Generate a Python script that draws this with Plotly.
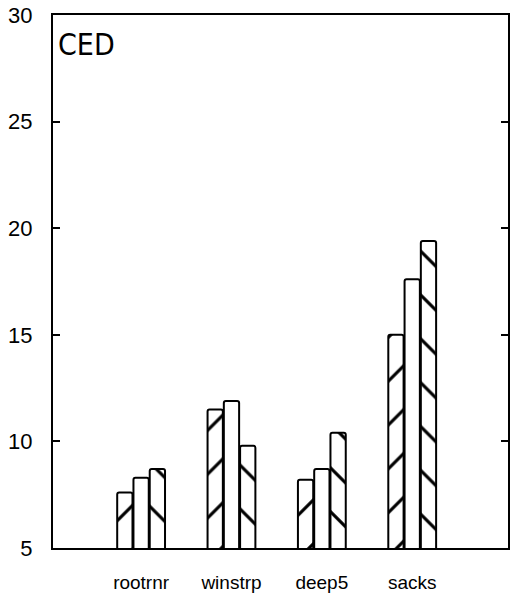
import plotly.graph_objects as go

# CED scores per benchmark, three runs each
categories = ["rootrnr", "winstrp", "deep5", "sacks"]
run_a = [7.6, 11.5, 8.2, 15.0]
run_b = [8.3, 11.9, 8.7, 17.6]
run_c = [8.7, 9.8, 10.4, 19.4]
y_ticks = [5, 10, 15, 20, 25, 30]

font_family = "Liberation Sans, Arial, sans-serif"
title_family = "DejaVu Sans Condensed, Liberation Sans Narrow, Liberation Sans, sans-serif"

fig = go.Figure()

series = [
    (run_a, "/"),
    (run_b, ""),
    (run_c, "\\"),
]
for values, shape in series:
    fig.add_trace(go.Bar(
        x=categories,
        y=values,
        base=0,
        marker=dict(
            color="white",
            line=dict(color="black", width=2),
            pattern=dict(shape=shape, size=31, solidity=0.1,
                         fgcolor="black", bgcolor="white", fillmode="replace"),
            cornerradius=2,
        ),
        showlegend=False,
    ))

fig.update_layout(
    width=521,
    height=602,
    margin=dict(l=53, r=13, t=15, b=54, autoexpand=False),
    paper_bgcolor="white",
    plot_bgcolor="white",
    barmode="group",
    bargap=0.46,
    bargroupgap=0.06,
    font=dict(family=font_family, color="black"),
    annotations=[dict(
        text="CED", xref="paper", yref="paper", x=0.006, y=0.982,
        xanchor="left", yanchor="top", showarrow=False,
        font=dict(size=30, family=title_family, color="black"),
    )],
)

fig.update_xaxes(
    range=[-0.975, 4.06],
    automargin=False,
    showline=True, linecolor="black", linewidth=2, mirror=True,
    ticks="", showgrid=False, zeroline=False,
    tickfont=dict(size=19, family=font_family),
    ticklabelstandoff=16,
)
fig.update_yaxes(
    range=[5, 30],
    automargin=False,
    tickvals=y_ticks,
    showline=True, linecolor="black", linewidth=2, mirror="ticks",
    ticks="inside", ticklen=7, tickwidth=2, tickcolor="black",
    showgrid=False, zeroline=False,
    tickfont=dict(size=22, family=font_family),
    ticklabelstandoff=14,
)

fig.write_html("out.html")
